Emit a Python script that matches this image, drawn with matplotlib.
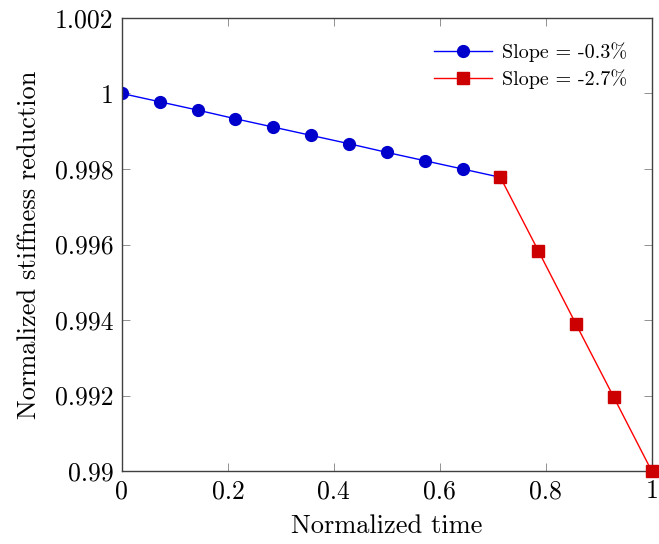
import matplotlib
matplotlib.use("Agg")
import matplotlib.pyplot as plt

plt.rcParams['font.family'] = 'cmr10'
plt.rcParams['mathtext.fontset'] = 'cm'
plt.rcParams['axes.unicode_minus'] = False

# data
t_slow = [0.0, 0.0714, 0.1429, 0.2143, 0.2857, 0.3571, 0.4286, 0.5, 0.5714, 0.6429, 0.7143]
s_slow = [1.0, 0.99978, 0.99956, 0.99933, 0.99911, 0.99889, 0.99867, 0.99844, 0.99822, 0.9980, 0.99778]
t_fast = [0.7143, 0.7857, 0.8571, 0.9286, 1.0]
s_fast = [0.99778, 0.99584, 0.99389, 0.99195, 0.9900]

xticks = [0, 0.2, 0.4, 0.6, 0.8, 1]
xlabels = ['0', '0.2', '0.4', '0.6', '0.8', '1']
yticks = [0.99, 0.992, 0.994, 0.996, 0.998, 1.0, 1.002]
ylabels = ['0.99', '0.992', '0.994', '0.996', '0.998', '1', '1.002']

fig = plt.figure(figsize=(6.59, 5.44), dpi=100)
ax = fig.add_axes([0.185, 0.134, 0.804, 0.833])

ax.plot(t_slow, s_slow, color='#0000ff', lw=1.0, marker='o', markersize=8.5,
        markerfacecolor='#0000cc', markeredgecolor='#0000cc', label='Slope = -0.3%')
ax.plot(t_fast, s_fast, color='#ff0000', lw=1.0, marker='s', markersize=8,
        markerfacecolor='#cc0000', markeredgecolor='#cc0000', label='Slope = -2.7%',
        clip_on=False, zorder=3)

ax.set_xlim(0, 1)
ax.set_ylim(0.99, 1.002)
ax.set_xticks(xticks)
ax.set_xticklabels(xlabels)
ax.set_yticks(yticks)
ax.set_yticklabels(ylabels)
ax.tick_params(direction='in', length=6, width=0.6, color='#808080',
               top=True, right=True, labelsize=18.5, pad=6)
for sp in ax.spines.values():
    sp.set_color('#404040')
    sp.set_linewidth(1.0)

ax.set_xlabel('Normalized time', fontsize=19, labelpad=8)
ax.set_ylabel('Normalized stiffness reduction', fontsize=19, labelpad=10)

leg = ax.legend(loc='upper right', frameon=False, fontsize=14.5,
                handlelength=2.9, handletextpad=0.5, borderaxespad=0.8,
                labelspacing=0.35, borderpad=0.4)

fig.savefig('out.png', dpi=100)
